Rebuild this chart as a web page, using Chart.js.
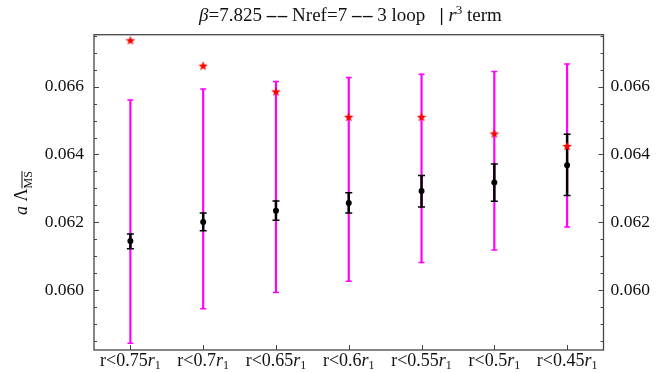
<!DOCTYPE html>
<html>
<head>
<meta charset="utf-8">
<script src="https://cdn.jsdelivr.net/npm/chart.js@4.4.1/dist/chart.umd.min.js"></script>
<style>
  html, body { margin: 0; padding: 0; background: #fff; }
  canvas { display: block; }
</style>
</head>
<body>
<canvas id="chart-lambda" width="671" height="373"></canvas>
<script>
// Soglie in r (etichette asse x)
const soglie = ['0.75', '0.7', '0.65', '0.6', '0.55', '0.5', '0.45'];
const categorie = soglie.map(s => 'r<' + s + 'r\u2081');

// Banda sistematica (magenta)
const sistBasso = [0.05843, 0.05945, 0.05993, 0.06026, 0.06081, 0.06118, 0.06186];
const sistAlto  = [0.06561, 0.06593, 0.06615, 0.06627, 0.06637, 0.06645, 0.06667];

// Valore centrale con errore statistico (nero)
const centrale   = [0.06145, 0.06201, 0.06234, 0.06257, 0.06292, 0.06317, 0.06368];
const statBasso  = [0.06122, 0.06175, 0.06206, 0.06227, 0.06245, 0.06262, 0.06279];
const statAlto   = [0.06165, 0.06227, 0.06263, 0.06287, 0.06338, 0.06372, 0.06460];

// Stelle rosse
const stelle = [0.06737, 0.06662, 0.06586, 0.06511, 0.06511, 0.06462, 0.06425];

// Asse y
const yMin = 0.05823;
const yMax = 0.067534;
const tickY = [0.060, 0.062, 0.064, 0.066];
const passoMinore = 0.0005;

const SERIF = "'Liberation Serif', 'DejaVu Serif', serif";
const MAGENTA = '#ff00ff';

// Stella piena a 5 punte come pointStyle
function creaStella(size, colore) {
    const c = document.createElement('canvas');
    c.width = size; c.height = size;
    const g = c.getContext('2d');
    const cx = size / 2, cy = size / 2 + 0.5;
    const R = size / 2, r = R * 0.42;
    g.beginPath();
    for (let i = 0; i < 10; i++) {
        const rad = i % 2 === 0 ? R : r;
        const a = -Math.PI / 2 + i * Math.PI / 5;
        g.lineTo(cx + rad * Math.cos(a), cy + rad * Math.sin(a));
    }
    g.closePath();
    g.fillStyle = colore;
    g.fill();
    return c;
}
const stellaRossa = creaStella(10, '#ff0000');

// Disegna una sequenza di pezzi di testo con font diversi
function scriviPezzi(ctx, pezzi, x, y, allinea) {
    let tot = 0;
    pezzi.forEach(p => { ctx.font = p.font; p.w = ctx.measureText(p.t).width; tot += p.w; });
    let cx = allinea === 'center' ? x - tot / 2 : x;
    pezzi.forEach(p => {
        ctx.font = p.font;
        ctx.fillText(p.t, cx, y + (p.dy || 0));
        if (p.sopra) {
            ctx.beginPath();
            ctx.lineWidth = 1;
            ctx.moveTo(cx, y + (p.dy || 0) - p.sopra);
            ctx.lineTo(cx + p.w, y + (p.dy || 0) - p.sopra);
            ctx.stroke();
        }
        cx += p.w;
    });
}

// Cornice, tacche interne, etichette e titoli
const decorazioni = {
    id: 'decorazioni',
    afterDraw(chart) {
        const ctx = chart.ctx;
        const a = chart.chartArea;
        const sy = chart.scales.y;
        const sx = chart.scales.x;
        ctx.save();
        ctx.strokeStyle = '#444';
        ctx.lineWidth = 1.3;
        ctx.strokeRect(a.left, a.top, a.right - a.left, a.bottom - a.top);

        // tacche y (sinistra e destra)
        ctx.lineWidth = 1;
        const primo = Math.ceil(yMin / passoMinore);
        for (let k = primo; k * passoMinore <= yMax; k++) {
            const v = k * passoMinore;
            const py = Math.round(sy.getPixelForValue(v)) + 0.5;
            const maggiore = tickY.some(t => Math.abs(t - v) < 1e-9);
            const L = maggiore ? 5 : 3;
            ctx.beginPath();
            ctx.moveTo(a.left, py); ctx.lineTo(a.left + L, py);
            ctx.moveTo(a.right, py); ctx.lineTo(a.right - L, py);
            ctx.stroke();
        }
        // tacche x
        categorie.forEach((c, i) => {
            const px = Math.round(sx.getPixelForTick(i)) + 0.5;
            ctx.beginPath();
            ctx.moveTo(px, a.bottom); ctx.lineTo(px, a.bottom - 5);
            ctx.stroke();
        });

        ctx.fillStyle = '#111';
        ctx.strokeStyle = '#111';
        ctx.textBaseline = 'alphabetic';
        ctx.textAlign = 'left';

        // etichette asse x: r<0.75 r_1
        soglie.forEach((s, i) => {
            const px = sx.getPixelForTick(i);
            scriviPezzi(ctx, [
                { t: 'r<' + s, font: '18px ' + SERIF },
                { t: 'r', font: 'italic 18px ' + SERIF },
                { t: '1', font: '12px ' + SERIF, dy: 3 }
            ], px, 366, 'center');
        });

        // titolo
        const f = '19px ' + SERIF;
        scriviPezzi(ctx, [
            { t: '\u03b2', font: 'italic ' + f },
            { t: '=7.825 ', font: f },
            { t: '\u2013\u200a\u2013', font: 'bold ' + f },
            { t: ' Nref=7 ', font: f },
            { t: '\u2013\u200a\u2013', font: 'bold ' + f },
            { t: ' 3 loop   ', font: f },
            { t: '|', font: 'bold ' + f },
            { t: ' ', font: f },
            { t: 'r', font: 'italic ' + f },
            { t: '3', font: '13px ' + SERIF, dy: -7 },
            { t: ' term', font: f }
        ], 350.5, 21, 'center');

        // titolo asse y: a Λ_MS (con barra)
        ctx.translate(27, 193);
        ctx.rotate(-Math.PI / 2);
        scriviPezzi(ctx, [
            { t: 'a', font: 'italic 18px ' + SERIF },
            { t: ' \u039b', font: '18px ' + SERIF },
            { t: 'MS', font: '12px ' + SERIF, dy: 5, sopra: 10 }
        ], 0, 0, 'center');
        ctx.restore();
    }
};

const yTicks = {
    font: { family: SERIF, size: 17.5 },
    color: '#111',
    callback: v => v.toFixed(3)
};
const impostaTick = s => { s.ticks = tickY.map(v => ({ value: v })); };

new Chart(document.getElementById('chart-lambda'), {
    type: 'bar',
    data: {
        labels: categorie,
        datasets: [
            { type: 'line', data: stelle, showLine: false, pointStyle: stellaRossa, order: 0 },
            { type: 'line', data: centrale, showLine: false, pointStyle: 'circle', pointRadius: 3,
              backgroundColor: '#000', borderColor: '#000', borderWidth: 0, order: 1 },
            { type: 'line', data: statBasso, showLine: false, pointStyle: 'line', pointRadius: 3.5,
              borderColor: '#000', borderWidth: 1.5, order: 2 },
            { type: 'line', data: statAlto, showLine: false, pointStyle: 'line', pointRadius: 3.5,
              borderColor: '#000', borderWidth: 1.5, order: 2 },
            { data: statBasso.map((b, i) => [b, statAlto[i]]), backgroundColor: '#000',
              barThickness: 1.8, grouped: false, borderWidth: 0, order: 3 },
            { type: 'line', data: sistBasso, showLine: false, pointStyle: 'line', pointRadius: 3,
              borderColor: MAGENTA, borderWidth: 1.5, order: 4 },
            { type: 'line', data: sistAlto, showLine: false, pointStyle: 'line', pointRadius: 3,
              borderColor: MAGENTA, borderWidth: 1.5, order: 4 },
            { data: sistBasso.map((b, i) => [b, sistAlto[i]]), backgroundColor: MAGENTA,
              barThickness: 1.5, grouped: false, borderWidth: 0, order: 5 }
        ]
    },
    options: {
        responsive: false,
        animation: false,
        layout: { padding: { top: 34.7, left: 0, right: 0, bottom: 0 } },
        plugins: { legend: { display: false }, tooltip: { enabled: false } },
        scales: {
            x: {
                offset: true,
                grid: { display: false },
                border: { display: false },
                ticks: { display: false },
                afterFit: s => { s.height = 23; }
            },
            y: {
                position: 'left',
                min: yMin, max: yMax,
                grid: { display: false, drawTicks: false },
                border: { display: false },
                ticks: Object.assign({ padding: 10 }, yTicks),
                afterBuildTicks: impostaTick,
                afterFit: s => { s.width = 94; }
            },
            y2: {
                position: 'right',
                display: true,
                min: yMin, max: yMax,
                grid: { display: false, drawTicks: false },
                border: { display: false },
                ticks: Object.assign({ padding: 7 }, yTicks),
                afterBuildTicks: impostaTick,
                afterFit: s => { s.width = 67.5; }
            }
        }
    },
    plugins: [decorazioni]
});
</script>
</body>
</html>
